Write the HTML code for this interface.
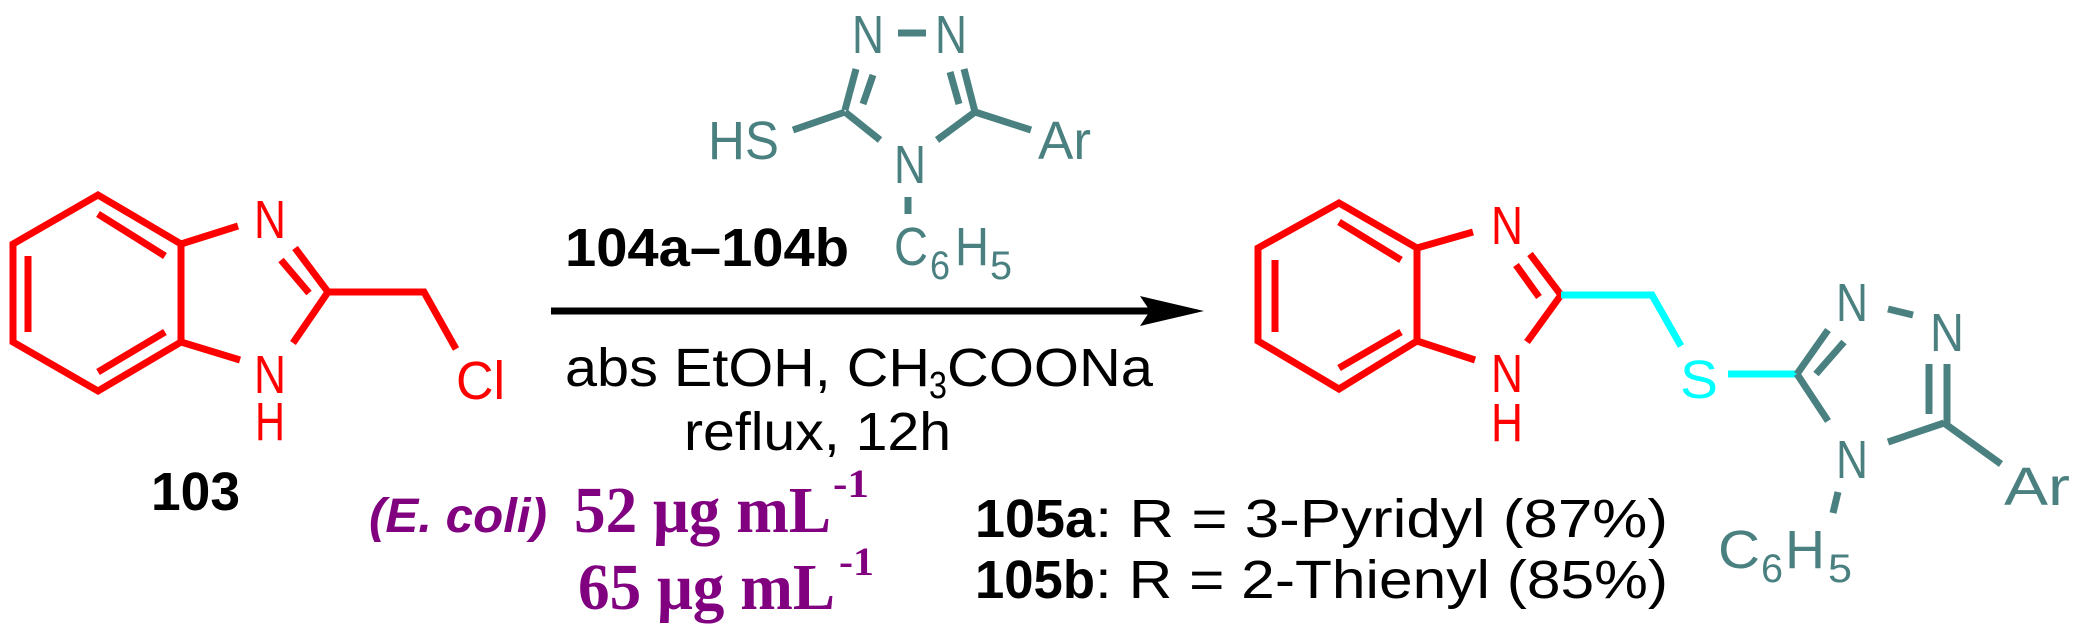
<!DOCTYPE html>
<html><head><meta charset="utf-8"><style>
html,body{margin:0;padding:0;background:#fff;}
svg{display:block;}
text{font-family:"Liberation Sans",sans-serif;}
.r{fill:#ff0000}.t{fill:#4a8080}.c{fill:#00ffff}.k{fill:#000}
.p{fill:#800080;font-family:"Liberation Serif",serif;font-weight:bold}
</style></head><body>
<svg width="2073" height="635" viewBox="0 0 2073 635" xmlns="http://www.w3.org/2000/svg">
<g fill="none" stroke-width="7" stroke-linecap="butt" stroke-linejoin="miter">
<g stroke="#ff0000">
<polyline points="181,244 98,195 13,244 13,342 98,391 181,342 181,244"/>
<line x1="98" y1="214" x2="165" y2="256"/>
<line x1="28" y1="256" x2="28" y2="332"/>
<line x1="98" y1="372" x2="165" y2="332"/>
<line x1="181" y1="244" x2="238" y2="226"/>
<line x1="295" y1="248" x2="328" y2="292"/>
<line x1="281" y1="260" x2="309" y2="293"/>
<line x1="328" y1="292" x2="293" y2="343"/>
<line x1="181" y1="342" x2="240" y2="360"/>
<polyline points="328,292 424,292 456,349"/>
</g>
<g stroke="#4a8080">
<line x1="856" y1="69" x2="845" y2="110"/>
<line x1="873" y1="75" x2="863" y2="104"/>
<line x1="964" y1="69" x2="975" y2="112"/>
<line x1="950" y1="72" x2="959" y2="104"/>
<line x1="898" y1="33" x2="926" y2="33"/>
<line x1="793" y1="130" x2="845" y2="112"/>
<line x1="845" y1="112" x2="880" y2="140"/>
<line x1="975" y1="112" x2="937" y2="140"/>
<line x1="975" y1="112" x2="1031" y2="130"/>
<line x1="908" y1="197" x2="908" y2="214"/>
</g>
<line x1="551" y1="311" x2="1160" y2="311" stroke="#000" stroke-width="7"/>
<g stroke="#ff0000">
<polyline points="1417,248 1339,203 1258,248 1258,341 1339,389 1417,341 1417,248"/>
<line x1="1339" y1="222" x2="1401" y2="260"/>
<line x1="1275" y1="260" x2="1275" y2="332"/>
<line x1="1339" y1="368" x2="1401" y2="332"/>
<line x1="1417" y1="248" x2="1473" y2="232"/>
<line x1="1530" y1="254" x2="1561" y2="295"/>
<line x1="1516" y1="265" x2="1539" y2="297"/>
<line x1="1561" y1="295" x2="1527" y2="342"/>
<line x1="1417" y1="341" x2="1475" y2="360"/>
</g>
<polyline points="1561,295 1652,295 1681,346" stroke="#00ffff"/>
<line x1="1728" y1="374" x2="1797" y2="374" stroke="#00ffff"/>
<g stroke="#4a8080">
<line x1="1797" y1="374" x2="1828" y2="330"/>
<line x1="1816" y1="374" x2="1844" y2="342"/>
<line x1="1888" y1="309" x2="1913" y2="315"/>
<line x1="1947" y1="364" x2="1947" y2="423"/>
<line x1="1929" y1="364" x2="1929" y2="414"/>
<line x1="1944" y1="423" x2="2001" y2="464"/>
<line x1="1944" y1="423" x2="1888" y2="442"/>
<line x1="1797" y1="374" x2="1828" y2="421"/>
<line x1="1838" y1="492" x2="1833" y2="513"/>
</g>
</g>
<polygon points="1204,311 1140,296 1150,311 1140,326" fill="#000"/>

<g font-size="54">
<text class="r" x="254" y="238" textLength="32" lengthAdjust="spacingAndGlyphs">N</text>
<text class="r" x="254" y="393" textLength="32" lengthAdjust="spacingAndGlyphs">N</text>
<text class="r" x="255" y="440" textLength="30" lengthAdjust="spacingAndGlyphs">H</text>
<text class="r" x="456" y="399" textLength="49" lengthAdjust="spacingAndGlyphs">Cl</text>
<text class="t" x="852" y="53" textLength="32" lengthAdjust="spacingAndGlyphs">N</text>
<text class="t" x="935" y="53" textLength="32" lengthAdjust="spacingAndGlyphs">N</text>
<text class="t" x="708" y="159" textLength="71" lengthAdjust="spacingAndGlyphs">HS</text>
<text class="t" x="1038" y="159" textLength="53" lengthAdjust="spacingAndGlyphs">Ar</text>
<text class="t" x="894" y="183" textLength="32" lengthAdjust="spacingAndGlyphs">N</text>
<text class="t" x="894" y="265" textLength="34" lengthAdjust="spacingAndGlyphs">C</text>
<text class="t" x="930" y="279" font-size="40" textLength="20" lengthAdjust="spacingAndGlyphs">6</text>
<text class="t" x="955" y="265" textLength="34" lengthAdjust="spacingAndGlyphs">H</text>
<text class="t" x="990" y="279" font-size="40" textLength="22" lengthAdjust="spacingAndGlyphs">5</text>
<text class="k" x="565" y="266" font-weight="bold" textLength="284" lengthAdjust="spacingAndGlyphs">104a–104b</text>
<text class="k" x="151" y="510" font-weight="bold" textLength="89" lengthAdjust="spacingAndGlyphs">103</text>
<text class="k" x="565" y="386" textLength="365" lengthAdjust="spacingAndGlyphs">abs EtOH, CH</text>
<text class="k" x="929" y="398" font-size="38" textLength="18" lengthAdjust="spacingAndGlyphs">3</text>
<text class="k" x="947" y="386" textLength="206" lengthAdjust="spacingAndGlyphs">COONa</text>
<text class="k" x="684" y="450" textLength="267" lengthAdjust="spacingAndGlyphs">reflux, 12h</text>
<text x="369" y="532" font-style="italic" font-weight="bold" font-size="48" fill="#800080" textLength="178" lengthAdjust="spacingAndGlyphs">(E. coli)</text>
<text class="p" x="574" y="532" font-size="66" textLength="257" lengthAdjust="spacingAndGlyphs">52 μg mL</text>
<text class="p" x="833" y="497" font-size="40" textLength="36" lengthAdjust="spacingAndGlyphs">-1</text>
<text class="p" x="578" y="609" font-size="66" textLength="257" lengthAdjust="spacingAndGlyphs">65 μg mL</text>
<text class="p" x="839" y="575" font-size="40" textLength="35" lengthAdjust="spacingAndGlyphs">-1</text>
<text class="r" x="1491" y="244" textLength="32" lengthAdjust="spacingAndGlyphs">N</text>
<text class="r" x="1491" y="392" textLength="32" lengthAdjust="spacingAndGlyphs">N</text>
<text class="r" x="1491" y="441" textLength="32" lengthAdjust="spacingAndGlyphs">H</text>
<text class="c" x="1680" y="398" textLength="38" lengthAdjust="spacingAndGlyphs">S</text>
<text class="t" x="1836" y="321" textLength="32" lengthAdjust="spacingAndGlyphs">N</text>
<text class="t" x="1930" y="351" textLength="34" lengthAdjust="spacingAndGlyphs">N</text>
<text class="t" x="1836" y="478" textLength="32" lengthAdjust="spacingAndGlyphs">N</text>
<text class="t" x="2004" y="505" textLength="66" lengthAdjust="spacingAndGlyphs">Ar</text>
<text class="t" x="1718" y="568" textLength="42" lengthAdjust="spacingAndGlyphs">C</text>
<text class="t" x="1761" y="582" font-size="40" textLength="22" lengthAdjust="spacingAndGlyphs">6</text>
<text class="t" x="1785" y="568" textLength="40" lengthAdjust="spacingAndGlyphs">H</text>
<text class="t" x="1828" y="582" font-size="40" textLength="24" lengthAdjust="spacingAndGlyphs">5</text>
<text class="k" x="975" y="537" font-weight="bold" textLength="120" lengthAdjust="spacingAndGlyphs">105a</text>
<text class="k" x="1095" y="537" textLength="573" lengthAdjust="spacingAndGlyphs">:  R = 3-Pyridyl  (87%)</text>
<text class="k" x="975" y="598" font-weight="bold" textLength="120" lengthAdjust="spacingAndGlyphs">105b</text>
<text class="k" x="1095" y="598" textLength="573" lengthAdjust="spacingAndGlyphs">:  R = 2-Thienyl (85%)</text>
</g>
</svg>
</body></html>
